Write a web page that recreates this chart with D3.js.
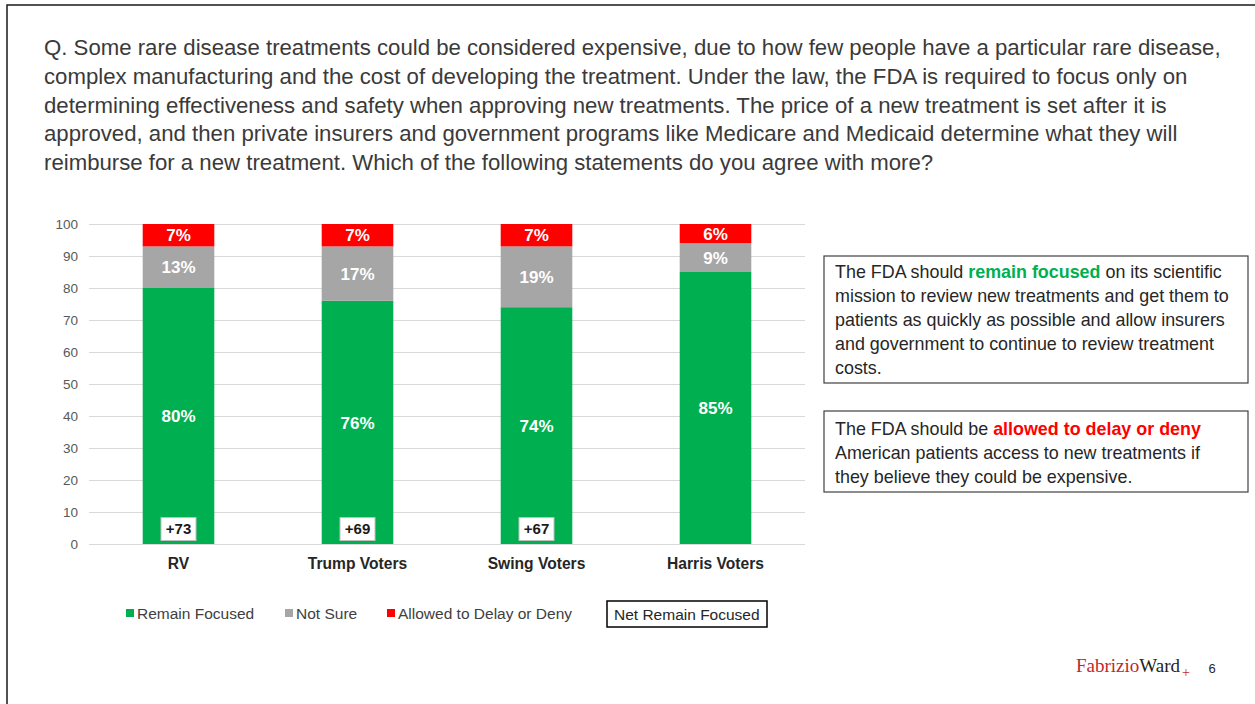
<!DOCTYPE html>
<html>
<head>
<meta charset="utf-8">
<script src="https://cdn.jsdelivr.net/npm/d3@7"></script>
<style>
  html, body { margin: 0; padding: 0; background: #fff; }
  svg { display: block; font-family: "Liberation Sans", Arial, sans-serif; }
</style>
</head>
<body>
<svg id="slide" width="1255" height="704"></svg>
<script>
// Survey results by voter group (percent)
const categories = ["RV", "Trump Voters", "Swing Voters", "Harris Voters"];
const remainFocused = [80, 76, 74, 85];
const notSure = [13, 17, 19, 9];
const delayDeny = [7, 7, 7, 6];
const netRemain = [73, 69, 67, null];
const yTicks = [0, 10, 20, 30, 40, 50, 60, 70, 80, 90, 100];

const seriesKeys = ["remain", "notSure", "delay"];
const seriesNames = ["Remain Focused", "Not Sure", "Allowed to Delay or Deny"];
const seriesColors = ["#00B050", "#A6A6A6", "#FF0000"];

const questionLines = [
  "Q. Some rare disease treatments could be considered expensive, due to how few people have a particular rare disease,",
  "complex manufacturing and the cost of developing the treatment. Under the law, the FDA is required to focus only on",
  "determining effectiveness and safety when approving new treatments. The price of a new treatment is set after it is",
  "approved, and then private insurers and government programs like Medicare and Medicaid determine what they will",
  "reimburse for a new treatment. Which of the following statements do you agree with more?"
];

const svg = d3.select("#slide");

// slide frame
svg.append("rect")
  .attr("x", 7).attr("y", 5).attr("width", 1260).attr("height", 720)
  .attr("fill", "none").attr("stroke", "#1a1a1a").attr("stroke-width", 1.5);

// question text
svg.append("g").selectAll("text").data(questionLines).join("text")
  .attr("x", 44).attr("y", (d, i) => 47 + i * 28.8).attr("dy", "0.36em")
  .attr("font-size", 22.2).attr("fill", "#3a3a3a")
  .text(d => d);

// chart
const rows = categories.map((c, i) => ({
  cat: c, remain: remainFocused[i], notSure: notSure[i], delay: delayDeny[i], net: netRemain[i]
}));

const x = d3.scaleBand().domain(categories).range([89, 805]).paddingInner(0.6).paddingOuter(0.3);
const y = d3.scaleLinear().domain([0, 100]).range([544, 224]);

const stacked = d3.stack().keys(seriesKeys)(rows);

// gridlines + y labels
const yAxis = d3.axisLeft(y).tickValues(yTicks).tickSize(-(805 - 89)).tickPadding(11);
const gy = svg.append("g").attr("transform", "translate(89,0)").call(yAxis);
gy.select(".domain").remove();
gy.selectAll(".tick line").attr("stroke", "#D9D9D9").attr("stroke-width", 1);
gy.selectAll(".tick text").attr("fill", "#595959").attr("font-size", 13.5)
  .attr("font-family", "Liberation Sans, Arial, sans-serif");

// bars
const layers = svg.append("g").selectAll("g").data(stacked).join("g")
  .attr("fill", (d, i) => seriesColors[i]);

layers.selectAll("rect").data(d => d).join("rect")
  .attr("x", d => x(d.data.cat))
  .attr("y", d => y(d[1]))
  .attr("width", x.bandwidth())
  .attr("height", d => y(d[0]) - y(d[1]));

// value labels
layers.selectAll("text").data(d => d.map(v => ({ v, key: d.key }))).join("text")
  .attr("x", d => x(d.v.data.cat) + x.bandwidth() / 2)
  .attr("y", d => y((d.v[0] + d.v[1]) / 2))
  .attr("dy", "0.36em")
  .attr("text-anchor", "middle")
  .attr("fill", "#fff").attr("font-weight", "bold").attr("font-size", 17)
  .text(d => (d.v[1] - d.v[0]) + "%");

// net labels
const netG = svg.append("g").selectAll("g").data(rows.filter(r => r.net !== null)).join("g")
  .attr("transform", r => `translate(${x(r.cat) + x.bandwidth() / 2},${y(0) - 15})`);
netG.append("rect")
  .attr("x", -17.5).attr("y", -11.5).attr("width", 35).attr("height", 23)
  .attr("fill", "#fff").attr("stroke", "#BFBFBF").attr("stroke-width", 1);
netG.append("text")
  .attr("text-anchor", "middle").attr("dy", "0.36em")
  .attr("font-size", 15).attr("font-weight", "bold").attr("fill", "#1a1a1a")
  .text(r => "+" + r.net);

// category axis labels
svg.append("g").selectAll("text").data(categories).join("text")
  .attr("x", c => x(c) + x.bandwidth() / 2).attr("y", 563).attr("dy", "0.36em")
  .attr("text-anchor", "middle").attr("font-size", 15.6).attr("font-weight", "bold")
  .attr("fill", "#262626")
  .text(c => c);

// legend
const legendX = [126, 285, 387];
const leg = svg.append("g").selectAll("g").data(seriesNames).join("g")
  .attr("transform", (d, i) => `translate(${legendX[i]},613)`);
leg.append("rect").attr("x", 0).attr("y", -4).attr("width", 8).attr("height", 8)
  .attr("fill", (d, i) => seriesColors[i]);
leg.append("text").attr("x", 11).attr("dy", "0.36em")
  .attr("font-size", 15.5).attr("fill", "#404040").text(d => d);

svg.append("rect").attr("x", 607).attr("y", 601).attr("width", 160).attr("height", 26)
  .attr("fill", "#fff").attr("stroke", "#000").attr("stroke-width", 1.5);
svg.append("text").attr("x", 614).attr("y", 614).attr("dy", "0.36em")
  .attr("font-size", 15.5).attr("fill", "#262626").text("Net Remain Focused");

// statement boxes
function statementBox(top, height, firstLine, lines) {
  svg.append("rect").attr("x", 824).attr("y", top).attr("width", 424).attr("height", height)
    .attr("fill", "#fff").attr("stroke", "#404040").attr("stroke-width", 1.2);
  lines.forEach((parts, i) => {
    const t = svg.append("text").attr("x", 835).attr("y", top + firstLine + i * 24).attr("dy", "0.36em")
      .attr("font-size", 17.9).attr("fill", "#262626");
    parts.forEach(p => {
      const s = t.append("tspan").text(p.t);
      if (p.c) s.attr("fill", p.c).attr("font-weight", "bold");
    });
  });
}

statementBox(256, 127, 16, [
  [{ t: "The FDA should " }, { t: "remain focused", c: "#00B050" }, { t: " on its scientific" }],
  [{ t: "mission to review new treatments and get them to" }],
  [{ t: "patients as quickly as possible and allow insurers" }],
  [{ t: "and government to continue to review treatment" }],
  [{ t: "costs." }]
]);

statementBox(411, 81, 18, [
  [{ t: "The FDA should be " }, { t: "allowed to delay or deny", c: "#FF0000" }],
  [{ t: "American patients access to new treatments if" }],
  [{ t: "they believe they could be expensive." }]
]);

// footer logo and page number
const logo = svg.append("text").attr("x", 1076).attr("y", 672)
  .attr("font-family", "Liberation Serif, Times New Roman, serif").attr("font-size", 19);
logo.append("tspan").attr("fill", "#C1272D").text("Fabrizio");
logo.append("tspan").attr("fill", "#231F20").text("Ward");
logo.append("tspan").attr("fill", "#C1272D").attr("font-size", 14).attr("dy", 5).attr("dx", 2).text("+");

svg.append("text").attr("x", 1212).attr("y", 668).attr("dy", "0.36em")
  .attr("text-anchor", "middle").attr("font-size", 13).attr("fill", "#262626").text("6");
</script>
</body>
</html>
